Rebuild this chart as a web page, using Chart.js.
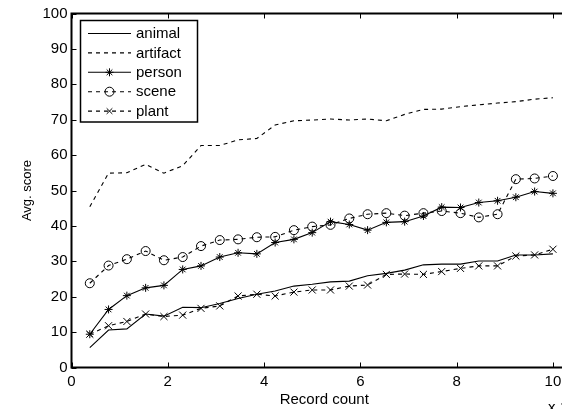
<!DOCTYPE html>
<html>
<head>
<meta charset="utf-8">
<script src="https://cdn.jsdelivr.net/npm/chart.js@4.4.1/dist/chart.umd.min.js"></script>
<style>
  html, body { margin: 0; padding: 0; background: #fff; overflow: hidden; }
  #wrap { width: 600px; height: 409px; position: relative; }
</style>
</head>
<body>
<div id="wrap"><canvas id="chart"></canvas></div>
<script>
// record count (x 10^4) at each sample
const recordCounts = [0.38, 0.77, 1.15, 1.54, 1.92, 2.31, 2.69, 3.08, 3.46, 3.85, 4.23, 4.62, 5.00,
                      5.38, 5.77, 6.15, 6.54, 6.92, 7.31, 7.69, 8.08, 8.46, 8.85, 9.23, 9.62, 10.00];

const seriesNames = ['animal', 'artifact', 'person', 'scene', 'plant'];

const animalScores   = [5.6, 10.6, 10.9, 15.1, 14.5, 17.0, 16.9, 18.1, 19.5, 20.7, 21.6, 23.0, 23.5,
                        24.2, 24.4, 25.9, 26.6, 27.5, 29.0, 29.2, 29.2, 30.1, 30.1, 31.8, 31.8, 32.1];
const artifactScores = [45.4, 54.9, 55.0, 57.4, 54.9, 57.0, 62.7, 62.7, 64.3, 64.7, 68.5, 69.7, 69.9,
                        70.2, 69.9, 70.2, 69.7, 71.5, 72.9, 73.0, 73.7, 74.2, 74.7, 75.1, 75.8, 76.2];
const personScores   = [9.4, 16.4, 20.3, 22.5, 23.2, 27.7, 28.7, 31.2, 32.4, 32.1, 35.3, 36.2, 38.1,
                        41.2, 40.4, 38.8, 41.0, 41.2, 42.8, 45.3, 45.2, 46.6, 47.1, 48.1, 49.7, 49.2];
const sceneScores    = [23.8, 28.8, 30.6, 32.9, 30.3, 31.2, 34.3, 36.0, 36.2, 36.8, 36.9, 38.8, 39.8,
                        40.3, 42.1, 43.3, 43.6, 42.9, 43.6, 44.2, 43.6, 42.4, 43.3, 53.2, 53.4, 54.1];
const plantScores    = [9.4, 11.8, 13.0, 15.1, 14.4, 14.8, 16.7, 17.4, 20.2, 20.7, 20.2, 21.3, 21.9,
                        21.9, 23.0, 23.3, 26.3, 26.4, 26.3, 27.1, 28.0, 28.7, 28.7, 31.5, 31.8, 33.4];

const xTicks = [0, 2, 4, 6, 8, 10];
const yTicks = [0, 10, 20, 30, 40, 50, 60, 70, 80, 90, 100];

Chart.defaults.font.family = '"Liberation Sans", Arial, Helvetica, sans-serif';
Chart.defaults.color = '#000';

function pts(values) {
  return values.map((v, i) => ({ x: recordCounts[i], y: v }));
}

function series(label, values, dash, style, radius) {
  return {
    label,
    data: pts(values),
    borderColor: '#000',
    borderWidth: 1.1,
    borderDash: dash,
    pointStyle: style || 'circle',
    pointRadius: style ? radius : 0,
    pointBorderColor: '#000',
    pointBackgroundColor: 'rgba(0,0,0,0)',
    pointBorderWidth: 1,
    tension: 0,
    fill: false
  };
}

// inward tick marks on all sides + axes box (matlab style)
const frameTicks = {
  id: 'frameTicks',
  afterDatasetsDraw(chart) {
    const { ctx, chartArea: a, scales: { x, y } } = chart;
    ctx.save();
    ctx.strokeStyle = '#000';
    ctx.lineWidth = 1;
    ctx.beginPath();
    x.ticks.forEach(t => {
      const px = Math.round(x.getPixelForValue(t.value)) + 0.5;
      ctx.moveTo(px, a.bottom); ctx.lineTo(px, a.bottom - 5);
      ctx.moveTo(px, a.top); ctx.lineTo(px, a.top + 5);
    });
    y.ticks.forEach(t => {
      const py = Math.round(y.getPixelForValue(t.value)) + 0.5;
      ctx.moveTo(a.left, py); ctx.lineTo(a.left + 5, py);
      ctx.moveTo(a.right, py); ctx.lineTo(a.right - 5, py);
    });
    ctx.stroke();
    ctx.lineWidth = 2;
    ctx.strokeRect(a.left, a.top, a.right - a.left, a.bottom - a.top);
    ctx.restore();
  }
};

// legend box in the upper left, drawn from the datasets
const boxLegend = {
  id: 'boxLegend',
  afterDraw(chart) {
    const ctx = chart.ctx;
    ctx.save();
    ctx.fillStyle = '#fff';
    ctx.fillRect(80.5, 20.5, 117, 101.5);
    ctx.strokeStyle = '#000';
    ctx.lineWidth = 1.5;
    ctx.strokeRect(80.5, 20.5, 117, 101.5);
    chart.data.datasets.forEach((ds, i) => {
      const yy = 33.5 + i * 19.4;
      ctx.lineWidth = 1.1;
      ctx.setLineDash(ds.borderDash || []);
      ctx.beginPath();
      ctx.moveTo(88, yy); ctx.lineTo(131, yy);
      ctx.stroke();
      ctx.setLineDash([]);
      if (ds.pointRadius > 0) {
        ctx.fillStyle = 'rgba(0,0,0,0)';
        ctx.lineWidth = 1;
        const r = ds.pointStyle === 'crossRot' ? 4 : ds.pointRadius;
        Chart.helpers.drawPoint(ctx, { pointStyle: ds.pointStyle, radius: r, borderWidth: 1, rotation: 0 }, 109.5, yy);
      }
      ctx.fillStyle = '#000';
      ctx.font = '15px "Liberation Sans", Arial, sans-serif';
      ctx.textBaseline = 'middle';
      ctx.textAlign = 'left';
      ctx.fillText(ds.label, 136, yy + 0.5);
    });
    // exponent note under the x axis (cut by the window edge)
    ctx.font = '15px "Liberation Sans", Arial, sans-serif';
    ctx.textBaseline = 'alphabetic';
    ctx.fillText('x 10', 548, 412);
    ctx.font = '11px "Liberation Sans", Arial, sans-serif';
    ctx.fillText('4', 580, 405);
    ctx.restore();
  }
};

new Chart(document.getElementById('chart'), {
  type: 'line',
  data: {
    datasets: [
      series(seriesNames[0], animalScores, []),
      series(seriesNames[1], artifactScores, [4, 4]),
      series(seriesNames[2], personScores, [], 'star', 4),
      series(seriesNames[3], sceneScores, [4, 4], 'circle', 4.5),
      series(seriesNames[4], plantScores, [4, 4], 'crossRot', 5)
    ]
  },
  options: {
    responsive: true,
    maintainAspectRatio: false,
    animation: false,
    layout: { padding: { left: 0, top: 13.5, right: 23, bottom: 0 } },
    plugins: {
      legend: { display: false },
      tooltip: { enabled: false }
    },
    scales: {
      x: {
        type: 'linear',
        min: 0,
        max: 10.5,
        afterBuildTicks: s => { s.ticks = xTicks.map(v => ({ value: v })); },
        afterFit: s => { s.height = 41.5; },
        grid: { display: false, drawTicks: false },
        border: { display: false },
        ticks: { font: { size: 15 }, color: '#000', padding: 5, maxRotation: 0, autoSkip: false },
        title: { display: true, text: 'Record count', font: { size: 15 }, color: '#000', padding: 0 }
      },
      y: {
        min: 0,
        max: 100,
        afterBuildTicks: s => { s.ticks = yTicks.map(v => ({ value: v })); },
        afterFit: s => { s.width = 71.5; },
        grid: { display: false, drawTicks: false },
        border: { display: false },
        ticks: { font: { size: 15 }, color: '#000', padding: 4, autoSkip: false },
        title: { display: true, text: 'Avg. score', font: { size: 13 }, color: '#000', padding: { top: 19.5, bottom: 0 } }
      }
    }
  },
  plugins: [frameTicks, boxLegend]
});
</script>
</body>
</html>
